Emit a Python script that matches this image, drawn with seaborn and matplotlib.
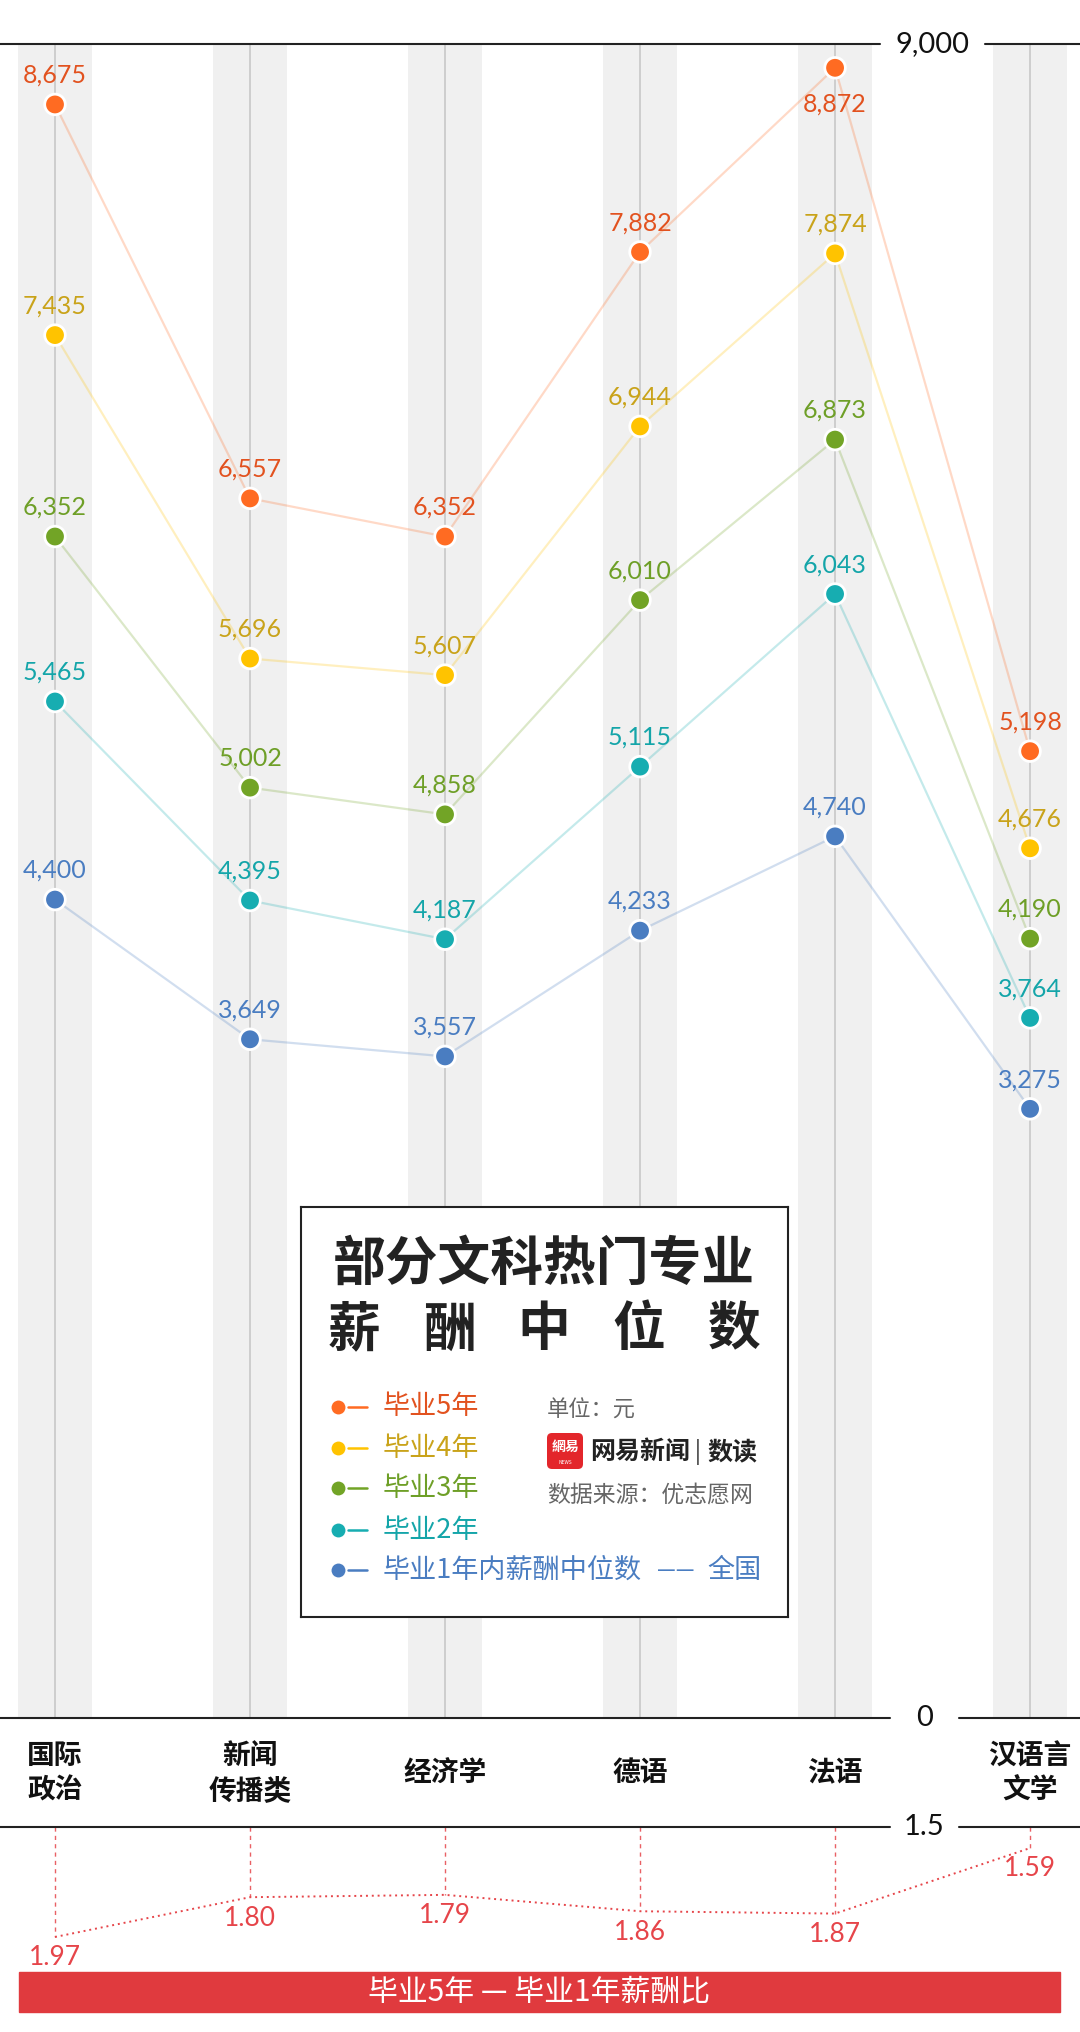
import matplotlib
matplotlib.use("Agg")
import matplotlib.pyplot as plt
from matplotlib.patches import Rectangle, FancyBboxPatch
import numpy as np
import pandas as pd
import seaborn as sns

# ========== 数据 ==========
majors = ["国际\n政治", "新闻\n传播类", "经济学", "德语", "法语", "汉语言\n文学"]
series_names = ["毕业5年", "毕业4年", "毕业3年", "毕业2年", "毕业1年内薪酬中位数"]
salary_5y = [8675, 6557, 6352, 7882, 8872, 5198]
salary_4y = [7435, 5696, 5607, 6944, 7874, 4676]
salary_3y = [6352, 5002, 4858, 6010, 6873, 4190]
salary_2y = [5465, 4395, 4187, 5115, 6043, 3764]
salary_1y = [4400, 3649, 3557, 4233, 4740, 3275]
ratio_5_1 = [1.97, 1.80, 1.79, 1.86, 1.87, 1.59]
y_top = 9000
ratio_top = 1.5

dot_colors = ["#FF6B22", "#FFC300", "#72A426", "#17ADB1", "#4A7DC1"]
text_colors = ["#E2521F", "#C9A31A", "#6E9F27", "#14A5A9", "#4A7DC1"]
ratio_color = "#E6454A"

all_series = [salary_5y, salary_4y, salary_3y, salary_2y, salary_1y]
pos = list(range(len(majors)))
df = pd.DataFrame({
    "pos": pos * len(all_series),
    "value": sum(all_series, []),
    "series": np.repeat(series_names, len(majors)),
})

sns.set_theme(style="white")
plt.rcParams["font.family"] = ["Noto Sans CJK SC", "DejaVu Sans"]
NUM_FONT = ["Lato", "DejaVu Sans"]

W, H = 1080, 2032
fig = plt.figure(figsize=(W / 100, H / 100), dpi=100)
fig.patch.set_facecolor("white")


def fy(px):
    return 1 - px / H


xlim = (-0.282, 5.256)

# ========== 主图 ==========
ax = fig.add_axes([0, fy(1718), 1, (1718 - 44) / H])
ax.set_xlim(*xlim)
ax.set_ylim(0, y_top)
ax.axis("off")

for i in pos:
    ax.axvspan(i - 0.19, i + 0.19, color="#f0f0f0", zorder=0, lw=0)
    ax.axvline(i, color="#c8c8c8", lw=1.2, zorder=0.5)

palette = dict(zip(series_names, dot_colors))
sns.lineplot(data=df, x="pos", y="value", hue="series", palette=palette,
             alpha=0.25, lw=1.6, legend=False, sort=False, ax=ax, zorder=1)
sns.scatterplot(data=df, x="pos", y="value", hue="series", palette=palette,
                s=220, edgecolor="white", linewidth=2, legend=False, ax=ax,
                zorder=3, clip_on=False)

for k, vals in enumerate(all_series):
    for i, v in enumerate(vals):
        dy = -26 if v > 8800 else 21
        ax.annotate(f"{v:,}", (i, v), xytext=(0, dy), textcoords="offset points",
                    ha="center", va="center", color=text_colors[k], fontsize=18,
                    family=NUM_FONT, zorder=4)

# 顶线 / 零线
ax.axhline(y_top, 0, 0.815, color="#222222", lw=1.5, clip_on=False)
ax.axhline(y_top, 0.912, 1, color="#222222", lw=1.5, clip_on=False)
ax.annotate("9,000", (0.863, y_top), xycoords=("axes fraction", "data"),
            ha="center", va="center", fontsize=21, family=NUM_FONT, color="#111111")
ax.axhline(0, 0, 0.824, color="#222222", lw=1.5, clip_on=False)
ax.axhline(0, 0.888, 1, color="#222222", lw=1.5, clip_on=False)
ax.annotate("0", (0.856, 0), xycoords=("axes fraction", "data"),
            ha="center", va="center", fontsize=21, family=NUM_FONT, color="#111111")

for i, lab in enumerate(majors):
    ax.annotate(lab, xy=(i, 0), xycoords=("data", "axes fraction"),
                xytext=(0, -40), textcoords="offset points", ha="center",
                va="center", fontsize=20, fontweight="bold", color="#111111",
                linespacing=1.3)

# ========== 薪酬比 ==========
ax2 = fig.add_axes([0, fy(1944), 1, (1944 - 1827) / H])
ax2.set_xlim(*xlim)
ax2.set_ylim(2.0, ratio_top)
ax2.axis("off")
ax2.vlines(pos, ratio_top, ratio_5_1, colors=ratio_color, linestyles=(0, (3, 3)),
           lw=1, alpha=0.85)
sns.lineplot(x=pos, y=ratio_5_1, color=ratio_color, lw=1.4, linestyle=(0, (1, 2)),
             ax=ax2, sort=False)
for i, r in enumerate(ratio_5_1):
    ax2.annotate(f"{r:.2f}", (i, r), xytext=(0, -15), textcoords="offset points",
                 ha="center", va="center", color=ratio_color, fontsize=19,
                 family=NUM_FONT)
ax2.axhline(ratio_top, 0, 0.824, color="#222222", lw=1.5, clip_on=False)
ax2.axhline(ratio_top, 0.888, 1, color="#222222", lw=1.5, clip_on=False)
ax2.annotate("1.5", (0.856, ratio_top), xycoords=("axes fraction", "data"),
             ha="center", va="center", fontsize=21, family=NUM_FONT, color="#111111")

fig.patches.append(Rectangle((19 / W, fy(2012)), (1060 - 19) / W, 40 / H,
                             transform=fig.transFigure, color="#E03A3E", zorder=0))
fig.text(0.4995, fy(1992), "毕业5年 — 毕业1年薪酬比", color="white", fontsize=21.5,
         ha="center", va="center")

# ========== 图例框 ==========
axl = fig.add_axes([301 / W, fy(1617), 487 / W, 410 / H], zorder=5)
axl.set_xlim(0, 487)
axl.set_ylim(410, 0)
axl.set_xticks([])
axl.set_yticks([])
axl.set_facecolor("white")
for sp in axl.spines.values():
    sp.set_visible(True)
    sp.set_color("#222222")
    sp.set_linewidth(1.5)

axl.text(243, 57, "部分文科热门专业", fontsize=38, fontweight="bold",
         ha="center", va="center", color="#222222")
for j, ch in enumerate("薪酬中位数"):
    axl.text(53 + 95 * j, 123, ch, fontsize=38, fontweight="bold",
             ha="center", va="center", color="#222222")

row_y = [200, 241, 281, 323, 363]
for k, name in enumerate(series_names):
    y = row_y[k]
    axl.plot([37], [y], "o", ms=10, color=dot_colors[k], mec="none")
    axl.plot([47, 66], [y, y], color=dot_colors[k], lw=1.8)
    axl.text(82, y, name, color=text_colors[k], fontsize=19.5, va="center")
axl.text(356, row_y[-1], "——", color=text_colors[-1], fontsize=15, va="center")
axl.text(406, row_y[-1], "全国", color=text_colors[-1], fontsize=19.5, va="center")

axl.text(246, 203, "单位：元", color="#666666", fontsize=16, va="center")
axl.add_patch(FancyBboxPatch((246, 226), 36, 36,
                             boxstyle="round,pad=0,rounding_size=5",
                             fc="#E3262B", ec="none"))
axl.text(264, 240, "網易", color="white", fontsize=10, fontweight="bold",
         ha="center", va="center")
axl.text(264, 255, "NEWS", color="white", fontsize=3.5, ha="center", va="center")
axl.text(289, 245, "网易新闻", color="#222222", fontsize=18, fontweight="bold",
         va="center")
axl.text(397, 245, "|", color="#222222", fontsize=16, ha="center", va="center")
axl.text(406, 245, "数读", color="#222222", fontsize=18, fontweight="bold",
         va="center")
axl.text(246, 288, "数据来源：优志愿网", color="#666666", fontsize=16.5, va="center")

fig.savefig("out.png", dpi=100, facecolor="white")
